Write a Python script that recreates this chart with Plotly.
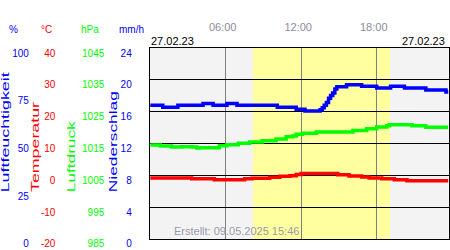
import plotly.graph_objects as go

# ---- data (hours of day 27.02.23) ----
hum_t = [0, 1.0, 2.2, 4.2, 5.0, 6.1, 6.9, 10.1, 11.6, 12.3, 13.5, 13.67, 13.83, 14.0,
         14.17, 14.33, 14.5, 14.67, 14.83, 15.6, 16.8, 18.0, 19.1, 20.2, 21.9, 23.5, 23.7]
hum_v = [70, 69, 70, 71, 70, 71, 70, 69, 68, 67, 67.7, 68.7, 70, 71.5,
         73.7, 75.2, 76.5, 78.5, 79.7, 80.8, 80, 79, 80, 79, 78, 77, 77]

temp_t = [0, 3.3, 5.1, 7.5, 8.1, 9.5, 10.3, 11.1, 11.6, 12.0, 14.9, 15.8, 16.8, 17.4,
          18.4, 19.4, 20.4, 23.7]
temp_v = [-0.8, -1.1, -1.4, -1.1, -0.9, -0.6, -0.3, -0.1, 0.3, 0.6, 0.2, -0.2, -0.5, -0.8,
          -1.1, -1.4, -1.7, -1.7]

pres_t = [0, 0.8, 1.7, 2.5, 3.3, 3.7, 3.9, 5.5, 6.1, 7.0, 7.9, 8.9, 10.0, 10.8, 11.3,
          11.6, 12.1, 13.2, 16.1, 17.2, 18.0, 18.8, 19.0, 20.8, 21.9, 23.7]
pres_v = [1014.5, 1014.2, 1013.9, 1014.0, 1013.9, 1013.6, 1013.7, 1014.3, 1014.6, 1015.1,
          1015.5, 1015.9, 1016.4, 1017.1, 1017.4, 1017.9, 1018.2, 1018.6, 1019.1, 1019.6,
          1020.2, 1020.6, 1020.9, 1020.6, 1020.1, 1020.1]

prec_t = [0, 23.7]
prec_v = [0, 0]

daylight = [8.17, 19.06]

x_ticks = [6, 12, 18]
x_labels = ["06:00", "12:00", "18:00"]
hum_ticks = [0, 25, 50, 75, 100]
temp_ticks = [-20, -10, 0, 10, 20, 30, 40]
pres_ticks = [985, 995, 1005, 1015, 1025, 1035, 1045]
prec_ticks = [0, 4, 8, 12, 16, 20, 24]

BLUE = "#0000ff"
RED = "#ff0000"
GREEN = "#00ff00"
FONT = "Liberation Sans, Arial, sans-serif"

W, H = 450, 250
PLOT_TOP, PLOT_BOTTOM = 50, 249
BOTTOM_LABEL_LIFT = 1  # px: lowest tick label is lifted a little extra to stay inside the image

def px(x):
    return x / W
def py(y):
    return 1 - y / H

fig = go.Figure()
# base subplot: temperature on the grid axis
fig.add_trace(go.Scatter(x=temp_t, y=temp_v, yaxis="y", mode="lines",
                         line=dict(color=RED, width=3.5, shape="hv"), showlegend=False))
# helper traces (no visible line) so that the label-only axes are drawn
fig.add_trace(go.Scatter(x=temp_t, y=temp_v, yaxis="y3", mode="lines",
                         line=dict(color=RED, width=0), hoverinfo="skip", showlegend=False))
fig.add_trace(go.Scatter(x=prec_t, y=prec_v, yaxis="y5", mode="lines",
                         line=dict(color=BLUE, width=0), hoverinfo="skip", showlegend=False))
fig.add_trace(go.Scatter(x=pres_t, y=pres_v, yaxis="y4", mode="lines",
                         line=dict(color=GREEN, width=3.5, shape="hv"), showlegend=False))
fig.add_trace(go.Scatter(x=hum_t, y=hum_v, yaxis="y2", mode="lines",
                         line=dict(color=BLUE, width=3.5, shape="hv"), showlegend=False))

dom_y = [py(PLOT_BOTTOM), py(PLOT_TOP)]

def label_axis(pos, ticks, color):
    lo, hi = ticks[0], ticks[-1]
    lift = BOTTOM_LABEL_LIFT * (hi - lo) / (PLOT_BOTTOM - PLOT_TOP)
    vals = [lo + lift] + ticks[1:]
    return dict(range=[lo, hi], tickvals=vals, ticktext=[str(t) for t in ticks],
                overlaying="y", anchor="free", position=pos, domain=dom_y,
                side="left", showgrid=False, zeroline=False, showline=False, ticks="",
                ticklabeloverflow="allow", ticklabelshift=5,
                tickfont=dict(family=FONT, size=10, color=color), fixedrange=True)

fig.update_layout(
    width=W, height=H,
    margin=dict(l=0, r=0, t=0, b=0),
    paper_bgcolor="white",
    plot_bgcolor="#f3f3f3",
    showlegend=False,
    xaxis=dict(domain=[px(150.5), px(449.5)], range=[0, 23.7], side="top",
               tickvals=x_ticks, ticktext=x_labels, ticks="", ticklabelstandoff=12,
               ticklabelshift=-3,
               tickfont=dict(family=FONT, size=11, color="#8c8c9c"),
               showgrid=True, gridcolor="#808080", gridwidth=1, zeroline=False,
               showline=True, mirror=True, linecolor="black", linewidth=1),
    yaxis=dict(domain=dom_y, range=[-20, 40], dtick=10, tick0=0, showticklabels=False,
               ticks="", showgrid=True, gridcolor="black", gridwidth=1, zeroline=False,
               showline=True, mirror=True, linecolor="black", linewidth=1),
    yaxis2=label_axis(px(29), hum_ticks, BLUE),
    yaxis3=label_axis(px(55.5), temp_ticks, RED),
    yaxis4=label_axis(px(104.5), pres_ticks, GREEN),
    yaxis5=label_axis(px(132), prec_ticks, BLUE),
)

fig.add_shape(type="rect", xref="x", yref="paper", x0=daylight[0], x1=daylight[1],
              y0=dom_y[0], y1=dom_y[1], fillcolor="#ffffa0", line=dict(width=0),
              layer="below")

def ann(text, x, y, color, size=10, xanchor="center", yanchor="middle", angle=0,
        family=FONT, weight="normal"):
    fig.add_annotation(text=text, x=px(x), y=py(y), xref="paper", yref="paper",
                       showarrow=False, xanchor=xanchor, yanchor=yanchor, textangle=angle,
                       font=dict(family=family, size=size, color=color, weight=weight))

# unit headers
ann("%", 14, 31, BLUE)
ann("°C", 47, 31, RED)
ann("hPa", 90, 31, GREEN)
ann("mm/h", 132, 31, BLUE)

# dates
ann("27.02.23", 149, 43, "black", size=11, xanchor="left")
ann("27.02.23", 448, 43, "black", size=11, xanchor="right")

# created
ann("Erstellt: 09.05.2025 15:46", 237, 241, "#9a9aaa", size=11)

# rotated titles: (text, centre x, centre y, rendered length px, colour)
rot_titles = [
    ("Luftfeuchtigkeit", 5.5, 138, 120, BLUE),
    ("Temperatur", 35.5, 153, 90, RED),
    ("Luftdruck", 71.5, 162.5, 71, GREEN),
    ("Niederschlag", 113.5, 147.5, 101, BLUE),
]
for text, cx, cy, _, col in rot_titles:
    ann(text, cx, cy, col, size=10, angle=-90)

# the original renders these titles stretched along their length
stretch = {t: L for t, _, _, L, _ in rot_titles}
js_map = ",".join('"%s":%d' % (t, L) for t, L in stretch.items())
post_js = """
var lens = {%s};
var gd = document.getElementById('{plot_id}');
gd.querySelectorAll('text.annotation-text').forEach(function(el){
  var L = lens[el.textContent];
  if (L) { el.setAttribute('textLength', L); el.setAttribute('lengthAdjust', 'spacingAndGlyphs'); }
});
""" % js_map

fig.write_html("out.html", config={"displayModeBar": False}, post_script=post_js)
